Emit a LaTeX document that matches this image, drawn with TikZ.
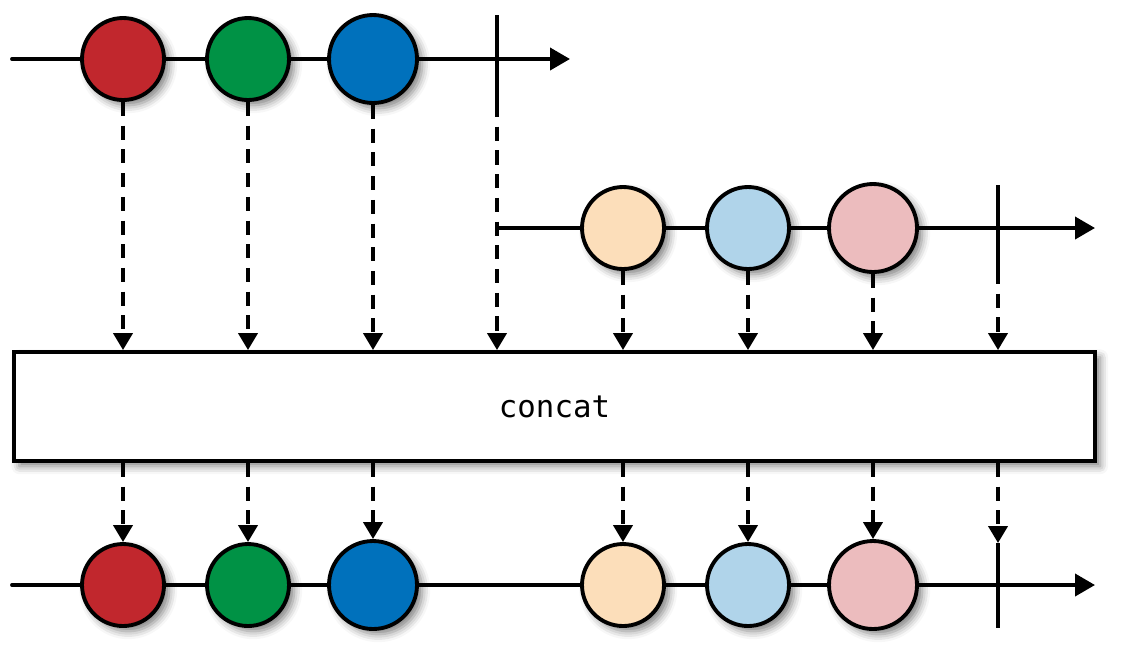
\documentclass[tikz,border=0pt]{standalone}
\usepackage{fontspec}
\usetikzlibrary{arrows.meta,shadows.blur}
\newfontfamily\opfont{DejaVu Sans Mono}
\definecolor{mred}{RGB}{193,39,45}
\definecolor{mgreen}{RGB}{0,146,69}
\definecolor{mblue}{RGB}{0,113,188}
\definecolor{lpeach}{RGB}{252,222,186}
\definecolor{lblue}{RGB}{176,212,234}
\definecolor{lpink}{RGB}{236,188,190}
\tikzset{
  tl/.style={line width=2.2pt,line cap=round,-{Triangle[length=4mm,width=4.4mm]}},
  bar/.style={line width=2.2pt},
  shade blur/.style={blur shadow={shadow xshift=3pt,shadow yshift=-3pt,shadow blur radius=4.5pt,shadow opacity=50}},
  marble/.style={circle,draw,line width=2.2pt,inner sep=0pt,shade blur},
  dasharr/.style={line width=2.2pt,dash pattern=on 8pt off 5.5pt,-{Triangle[length=3.4mm,width=3.8mm]}},
  opbox/.style={draw,fill=white,line width=2.2pt,minimum width=21.62cm,minimum height=2.18cm,font=\opfont\fontsize{17.5}{20}\selectfont,shade blur}
}
\begin{document}
\begin{tikzpicture}[x=0.02cm,y=-0.02cm]
  \useasboundingbox (0,0) rectangle (1121,657);

  % first source
  \coordinate (s1) at (12,59); \coordinate (e1) at (570,59);
  \draw[tl] (s1) -- (e1);
  \coordinate (k1t) at (497,15); \coordinate (k1b) at (497,103);
  \draw[bar] (k1t) -- (k1b);
  \foreach \n/\x/\c/\d in {a1/123/mred/1.64,a2/248/mgreen/1.64,a3/373/mblue/1.76}{
    \node[marble,fill=\c,minimum size=\d cm] (\n) at (\x,59) {};
  }

  % second source
  \coordinate (s2) at (497,228); \coordinate (e2) at (1095,228);
  \draw[tl] (s2) -- (e2);
  \coordinate (k2t) at (998,185); \coordinate (k2b) at (998,270);
  \draw[bar] (k2t) -- (k2b);
  \foreach \n/\x/\c/\d in {b1/623/lpeach/1.64,b2/748/lblue/1.64,b3/873/lpink/1.76}{
    \node[marble,fill=\c,minimum size=\d cm] (\n) at (\x,228) {};
  }

  \node[opbox] (op) at (554.5,406.5) {concat};

  % result
  \coordinate (s3) at (12,585); \coordinate (e3) at (1095,585);
  \draw[tl] (s3) -- (e3);
  \coordinate (k3t) at (998,543); \coordinate (k3b) at (998,628);
  \draw[bar] (k3t) -- (k3b);
  \foreach \n/\x/\c/\d in {c1/123/mred/1.64,c2/248/mgreen/1.64,c3/373/mblue/1.76,c4/623/lpeach/1.64,c5/748/lblue/1.64,c6/873/lpink/1.76}{
    \node[marble,fill=\c,minimum size=\d cm] (\n) at (\x,585) {};
  }

  \foreach \n in {a1,a2,a3,b1,b2,b3}{\draw[dasharr] (\n.south) -- (\n.south |- op.north);}
  \draw[dasharr] (k1b) -- (k1b |- op.north);
  \draw[dasharr] (k2b) -- (k2b |- op.north);
  \foreach \n in {c1,c2,c3,c4,c5,c6}{\draw[dasharr] (\n.north |- op.south) -- (\n.north);}
  \draw[dasharr] (k3t |- op.south) -- (k3t);
\end{tikzpicture}
\end{document}
